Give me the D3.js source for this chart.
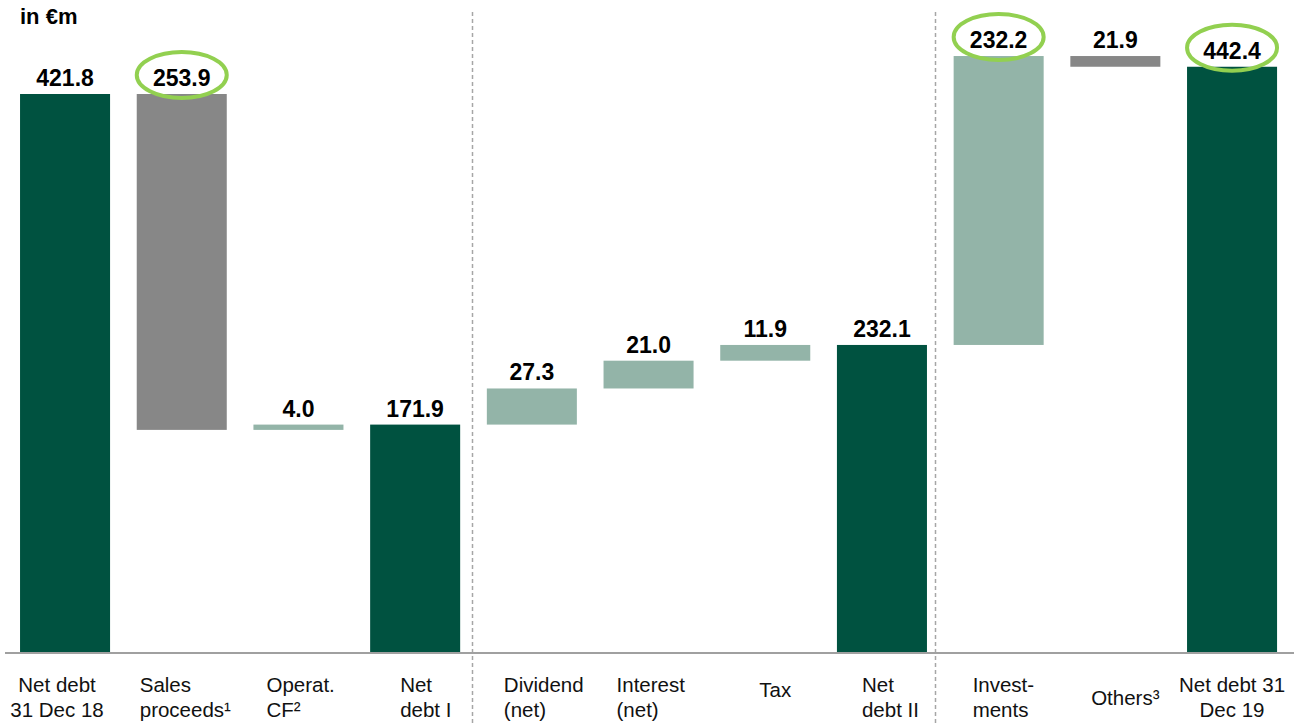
<!DOCTYPE html>
<html>
<head>
<meta charset="utf-8">
<script src="https://cdn.jsdelivr.net/npm/d3@7"></script>
<style>
  body { margin: 0; background: #fff; }
  svg { display: block; font-family: Arial, "Liberation Sans", sans-serif; }
</style>
</head>
<body>
<div id="chart"></div>
<script>
//chart data
let categories = ["nd18", "sales", "opcf", "nd1", "div", "int", "tax", "nd2", "inv", "oth", "nd19"];
let categoryLines = [
  ["Net debt", "31 Dec 18"],
  ["Sales", "proceeds\u00b9"],
  ["Operat.", "CF\u00b2"],
  ["Net", "debt I"],
  ["Dividend", "(net)"],
  ["Interest", "(net)"],
  ["Tax"],
  ["Net", "debt II"],
  ["Invest-", "ments"],
  ["Others\u00b3"],
  ["Net debt 31", "Dec 19"]
];
let valueLabels = ["421.8", "253.9", "4.0", "171.9", "27.3", "21.0", "11.9", "232.1", "232.2", "21.9", "442.4"];
// bar bottoms and tops as drawn in the picture (in €m)
let barLow = [0, 167.9, 167.9, 0, 171.9, 199.2, 220.2, 0, 232.1, 442.4, 0];
let barHigh = [421.8, 421.8, 171.9, 171.9, 199.2, 220.2, 232.1, 232.1, 450.5, 450.5, 442.4];
let barKind = ["total", "down", "up", "total", "up", "up", "up", "total", "up", "down", "total"];
let circled = ["sales", "inv", "nd19"];
let sectionBreaks = ["nd1", "nd2"];

let colors = { total: "#005240", up: "#93b4a8", down: "#878787" };

//label layout: left aligned blocks start this far into the bar, others shift from centre
let labelStart = { sales: 3, opcf: 13, nd1: 30, div: 17, int: 13, nd2: 25, inv: 19 };
let labelShift = { nd18: -8, tax: 10, oth: 10 };
let breakGap = { nd1: 12, nd2: 8 };

let width = 1294;
let height = 724;
let baseY = 652;

var svg = d3.select("#chart")
        .append("svg")
        .attr("width", width)
        .attr("height", height);

let x = d3.scaleBand()
        .domain(categories)
        .range([6.7, 1290.4])
        .paddingInner(0.2286)
        .paddingOuter(0.1143);

let y = d3.scaleLinear()
        .domain([0, 421.8])
        .range([baseY, 94]);

//title
svg.append("text")
    .attr("x", 20)
    .attr("y", 24)
    .attr("font-size", 22)
    .attr("font-weight", "bold")
    .text("in \u20acm");

//dashed section separators
sectionBreaks.forEach(function(c){
  let sx = Math.round(x(c) + x.bandwidth() + breakGap[c]) + 0.5;
  svg.append("line")
      .attr("x1", sx).attr("x2", sx)
      .attr("y1", 12).attr("y2", height)
      .attr("stroke", "#a6a6a6")
      .attr("stroke-width", 1.5)
      .attr("stroke-dasharray", "4,3");
});

//bars
svg.selectAll("rect.bar")
    .data(categories)
    .enter()
    .append("rect")
    .attr("class", "bar")
    .attr("x", d => x(d))
    .attr("width", x.bandwidth())
    .attr("y", (d, i) => y(barHigh[i]))
    .attr("height", (d, i) => y(barLow[i]) - y(barHigh[i]))
    .attr("fill", (d, i) => colors[barKind[i]]);

//axis line
svg.append("line")
    .attr("x1", 5).attr("x2", width)
    .attr("y1", baseY + 1).attr("y2", baseY + 1)
    .attr("stroke", "#a0a0a0")
    .attr("stroke-width", 2);

//value labels
svg.selectAll("text.value")
    .data(categories)
    .enter()
    .append("text")
    .attr("class", "value")
    .attr("x", d => x(d) + x.bandwidth() / 2)
    .attr("y", (d, i) => y(barHigh[i]) - 8)
    .attr("text-anchor", "middle")
    .attr("font-size", 23)
    .attr("font-weight", "bold")
    .text((d, i) => valueLabels[i]);

//green highlight ellipses
svg.selectAll("ellipse.mark")
    .data(circled)
    .enter()
    .append("ellipse")
    .attr("class", "mark")
    .attr("cx", d => x(d) + x.bandwidth() / 2)
    .attr("cy", d => y(barHigh[categories.indexOf(d)]) - 19)
    .attr("rx", 45)
    .attr("ry", 23)
    .attr("fill", "none")
    .attr("stroke", "#92d050")
    .attr("stroke-width", 4);

//category labels below the axis
categories.forEach(function(c, i){
  let lines = categoryLines[i];
  let isStart = labelStart[c] !== undefined;
  let lx = isStart ? x(c) + labelStart[c] : x(c) + x.bandwidth() / 2 + (labelShift[c] || 0);
  let firstY = lines.length == 1 ? (c == "tax" ? 697 : 705) : 692;
  lines.forEach(function(line, j){
    svg.append("text")
        .attr("x", lx)
        .attr("y", firstY + j * 25)
        .attr("text-anchor", isStart ? "start" : "middle")
        .attr("font-size", 20.5)
        .attr("fill", "#111")
        .text(line);
  });
});
</script>
</body>
</html>
